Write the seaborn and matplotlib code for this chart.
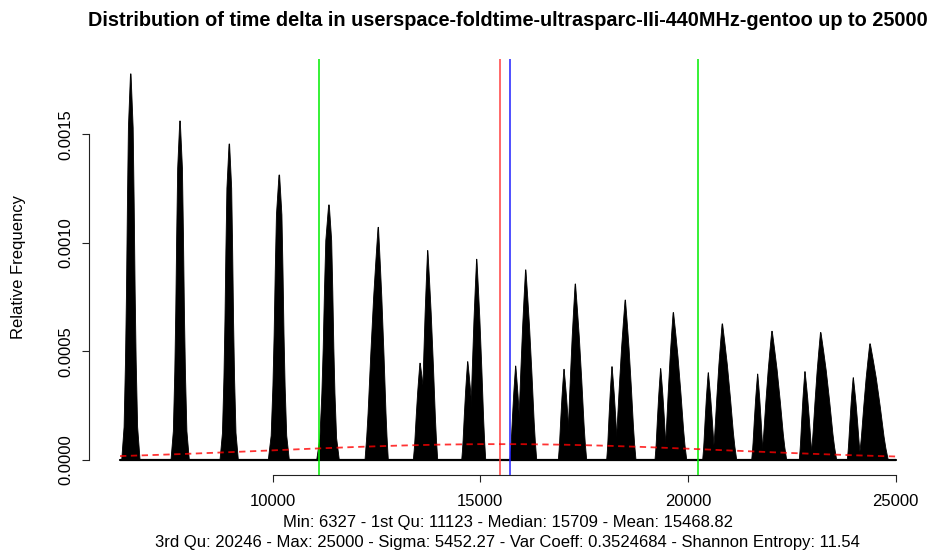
import numpy as np
import pandas as pd
import matplotlib
matplotlib.use("Agg")
import matplotlib.pyplot as plt
import seaborn as sns

# summary statistics shown under the plot
stat_min, stat_q1, stat_median, stat_mean = 6327, 11123, 15709, 15468.82
stat_q3, stat_max, stat_sigma = 20246, 25000, 5452.27
stat_varcoeff, stat_entropy = 0.3524684, 11.54

# main spike of every cluster (centre, height, half width on each side at the foot)
main_x = [6585, 7771, 8958, 10161, 11357, 12544, 13733, 14913,
          16092, 17286, 18489, 19645, 20824, 22020, 23192, 24379]
main_h = [0.001779, 0.001562, 0.001456, 0.001313, 0.001175, 0.001072, 0.000965, 0.000925,
          0.000876, 0.000811, 0.000737, 0.000679, 0.000627, 0.000593, 0.000587, 0.000535]
main_wl = [217, 217, 224, 265, 296, 320, 178, 188, 212, 214, 255, 217, 233, 258, 241, 267]
main_wr = [224, 224, 217, 241, 248, 241, 241, 217, 265, 274, 258, 323, 347, 354, 385, 440]
main_shape = ['spike'] * 5 + ['bell'] * 11

# smaller side peak left of the main spike (clusters 7..16)
sub_x = [13548, 14696, 15851, 17014, 18169, 19341, 20487, 21676, 22814, 23977]
sub_h = [0.000446, 0.000453, 0.000433, 0.000418, 0.000430,
         0.000421, 0.000402, 0.000396, 0.000407, 0.000379]
sub_wl = [161, 144, 137, 137, 128, 137, 135, 144, 137, 144]
sub_wr = [265, 200, 156, 171, 159, 156, 171, 147, 188, 185]

# outline of a peak: relative height -> relative half width
profile_h = {'spike': [0, 0.085, 0.26, 0.44, 0.66, 0.86, 1.0],
             'bell': [0, 0.1, 0.2, 0.45, 0.7, 0.85, 1.0]}
profile_w = {'spike': [1.0, 0.74, 0.58, 0.47, 0.37, 0.26, 0.03],
             'bell': [1.0, 0.87, 0.77, 0.57, 0.35, 0.19, 0.02]}

# fitted normal density (red dashed), read at these points
curve_x = [6327, 7000, 8000, 9000, 10000, 11000, 12000, 13000, 14000, 15000,
           16000, 17000, 18000, 19000, 20000, 21000, 22000, 23000, 24000, 25000]
curve_y = [1.79e-5, 2.19e-5, 2.86e-5, 3.62e-5, 4.42e-5, 5.23e-5, 5.98e-5, 6.60e-5, 7.06e-5, 7.29e-5,
           7.28e-5, 7.03e-5, 6.57e-5, 5.93e-5, 5.18e-5, 4.37e-5, 3.57e-5, 2.82e-5, 2.15e-5, 1.59e-5]

x_ticks = [10000, 15000, 20000, 25000]
y_ticks = [0.0, 0.0005, 0.0010, 0.0015]
y_ticklabels = ['0.0000', '0.0005', '0.0010', '0.0015']

sns.set_style('white')
plt.rcParams['font.family'] = ['Liberation Sans', 'DejaVu Sans']
plt.rcParams['text.color'] = 'black'
plt.rcParams['xtick.color'] = 'black'
plt.rcParams['ytick.color'] = 'black'

W, H = 933, 558
fig = plt.figure(figsize=(W / 100, H / 100), dpi=100)
left, right, top, bottom = 89.0, 926.8, 58.5, 475.4
ax = fig.add_axes([left / W, 1 - bottom / H, (right - left) / W, (bottom - top) / H])


def peak_outline(cx, h, wl, wr, shape):
    rh = np.array(profile_h[shape])
    rw = np.array(profile_w[shape])
    xs = np.concatenate([cx - wl * rw, (cx + wr * rw)[::-1]])
    ys = np.concatenate([h * rh, (h * rh)[::-1]])
    return xs, ys


for cx, h, wl, wr, shape in zip(main_x, main_h, main_wl, main_wr, main_shape):
    xs, ys = peak_outline(cx, h, wl, wr, shape)
    ax.fill(xs, ys, color='black', lw=0.6, zorder=2)

for cx, h, wl, wr in zip(sub_x, sub_h, sub_wl, sub_wr):
    xs, ys = peak_outline(cx, h, wl, wr, 'bell')
    ax.fill(xs, ys, color='black', lw=0.6, zorder=2)

# zero-height bins still draw their black border
ax.plot([stat_min, stat_max], [0, 0], color='black', lw=1.6, zorder=2)

curve = pd.DataFrame({'x': curve_x, 'y': curve_y})
sns.lineplot(data=curve, x='x', y='y', ax=ax, color='red', alpha=0.8, lw=1.3,
             dashes=(3.5, 2.5), zorder=4)

ax.axvline(stat_q1, color='#00ee00', lw=1.1, zorder=3)
ax.axvline(stat_q3, color='#00ee00', lw=1.1, zorder=3)
ax.axvline(stat_mean, color='#ff4040', lw=1.1, zorder=3)
ax.axvline(stat_median, color='#2020ff', lw=1.1, zorder=3)

rng = stat_max - stat_min
ax.set_xlim(stat_min - 0.04 * rng, stat_max + 0.04 * rng)
ax.set_ylim(-0.04 * 0.00178, 0.00185)

for side in ['top', 'right']:
    ax.spines[side].set_visible(False)
ax.spines['left'].set_bounds(0, 0.0015)
ax.spines['bottom'].set_bounds(10000, 25000)
for side in ['left', 'bottom']:
    ax.spines[side].set_color('#222222')
    ax.spines[side].set_linewidth(0.8)

ax.set_xticks(x_ticks)
ax.set_xticklabels([str(t) for t in x_ticks])
ax.set_yticks(y_ticks)
ax.set_yticklabels(y_ticklabels, rotation=90, va='center')
ax.tick_params(axis='both', direction='out', length=5.2, width=0.8, color='#222222',
               labelsize=12, left=True, bottom=True)
ax.tick_params(axis='x', pad=8)
ax.tick_params(axis='y', pad=6)
ax.set_xlabel('')
ax.set_ylabel('')

cx_fig = (left + right) / 2 / W
fig.text(cx_fig, 1 - 20 / H,
         'Distribution of time delta in userspace-foldtime-ultrasparc-IIi-440MHz-gentoo up to 25000',
         ha='center', va='center', fontsize=14.3, fontweight='bold')
fig.text(19 / W, 1 - 267 / H, 'Relative Frequency', rotation=90,
         ha='center', va='center', fontsize=12)
line1 = 'Min: %d - 1st Qu: %d - Median: %d - Mean: %.2f' % (stat_min, stat_q1, stat_median, stat_mean)
line2 = '3rd Qu: %d - Max: %d - Sigma: %.2f - Var Coeff: %.7f - Shannon Entropy: %.2f' % (
    stat_q3, stat_max, stat_sigma, stat_varcoeff, stat_entropy)
fig.text(cx_fig, 1 - 523 / H, line1, ha='center', va='center', fontsize=12)
fig.text(cx_fig, 1 - 543 / H, line2, ha='center', va='center', fontsize=12)

fig.savefig('out.png', dpi=100)
